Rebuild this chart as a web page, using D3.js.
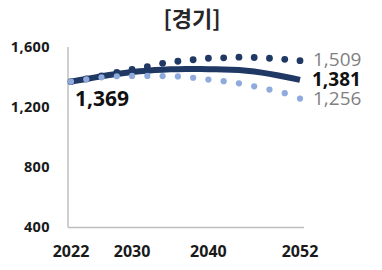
<!DOCTYPE html>
<html>
<head>
<meta charset="utf-8">
<script src="https://cdn.jsdelivr.net/npm/d3@7"></script>
<style>
  body { margin: 0; background: #fff; }
</style>
</head>
<body>
<div id="chart"></div>
<script>
// data
var years = d3.range(2022, 2053);
var baseValues = [1369, 1378, 1387, 1396, 1405, 1413, 1420, 1427, 1433, 1438,
                  1442, 1446, 1449, 1451, 1452, 1453, 1453, 1453, 1452, 1451,
                  1450, 1448, 1446, 1442, 1436, 1429, 1421, 1412, 1402, 1392, 1381];
var dotYears = d3.range(2022, 2053, 2);
var highValues = [1369, 1387, 1407, 1430, 1450, 1469, 1491, 1505, 1515, 1525, 1528, 1532, 1530, 1525, 1518, 1509];
var lowValues = [1369, 1385, 1398, 1405, 1407, 1407, 1406, 1404, 1395, 1383, 1372, 1358, 1338, 1316, 1292, 1256];
var yTicks = [400, 800, 1200, 1600];
var xTicks = [2022, 2030, 2040, 2052];
var title = "[경기]";

var W = 382, H = 270;
var navy = "#203864", light = "#8FAADC", gray = "#7f7f7f";

var svg = d3.select("#chart").append("svg")
    .attr("width", W).attr("height", H);

var x = d3.scaleLinear().domain([2022, 2052]).range([71, 300]);
var y = d3.scaleLinear().domain([400, 1600]).range([227, 47]);

// title
svg.append("text")
    .attr("x", 192).attr("y", 27)
    .attr("text-anchor", "middle")
    .style("font-family", '"Noto Sans CJK KR", sans-serif')
    .style("font-size", "22px")
    .style("font-weight", "700")
    .style("fill", "#262626")
    .text(title);

// axes lines
svg.append("line")
    .attr("x1", 68).attr("x2", 68)
    .attr("y1", 47).attr("y2", 227.5)
    .style("stroke", "#bfbfbf").style("stroke-width", 1.5);
svg.append("line")
    .attr("x1", 68).attr("x2", 304)
    .attr("y1", 227.5).attr("y2", 227.5)
    .style("stroke", "#bfbfbf").style("stroke-width", 1.5);

// y tick labels
svg.selectAll(".ylab").data(yTicks).enter().append("text")
    .attr("class", "ylab")
    .attr("x", 50)
    .attr("y", function(d) { return y(d) + 5; })
    .attr("text-anchor", "end")
    .style("font-family", '"Open Sans", sans-serif')
    .style("font-size", "14.5px")
    .style("font-weight", "700")
    .style("letter-spacing", "0.4px")
    .style("fill", "#1a1a1a")
    .text(function(d) { return d3.format(",")(d); });

// x tick labels
svg.selectAll(".xlab").data(xTicks).enter().append("text")
    .attr("class", "xlab")
    .attr("x", function(d) { return x(d); })
    .attr("y", 257)
    .attr("text-anchor", "middle")
    .style("font-family", '"Open Sans", sans-serif')
    .style("font-size", "16px")
    .style("font-weight", "700")
    .style("fill", "#1a1a1a")
    .text(function(d) { return d; });

// main line
var line = d3.line()
    .x(function(d, i) { return x(years[i]); })
    .y(function(d) { return y(d); });

svg.append("path")
    .datum(baseValues)
    .attr("d", line)
    .style("fill", "none")
    .style("stroke", navy)
    .style("stroke-width", 6);

// dotted scenarios
svg.selectAll(".hi").data(highValues).enter().append("circle")
    .attr("class", "hi")
    .attr("cx", function(d, i) { return x(dotYears[i]); })
    .attr("cy", function(d) { return y(d); })
    .attr("r", 3.4)
    .style("fill", navy);

svg.selectAll(".lo").data(lowValues).enter().append("circle")
    .attr("class", "lo")
    .attr("cx", function(d, i) { return x(dotYears[i]); })
    .attr("cy", function(d) { return y(d); })
    .attr("r", 3.1)
    .style("fill", light);

// value labels
var fmt = d3.format(",");
svg.append("text")
    .attr("x", 75).attr("y", 106)
    .style("font-family", '"Open Sans", sans-serif')
    .style("font-size", "21px")
    .style("font-weight", "700")
    .style("fill", "#111")
    .text(fmt(baseValues[0]));

svg.append("text")
    .attr("x", 313).attr("y", 66)
    .style("font-family", '"Open Sans", sans-serif')
    .style("font-size", "19px")
    .style("fill", gray)
    .text(fmt(highValues[highValues.length - 1]));

svg.append("text")
    .attr("x", 312).attr("y", 86)
    .style("font-family", '"Open Sans", sans-serif')
    .style("font-size", "19px")
    .style("font-weight", "700")
    .style("fill", "#111")
    .text(fmt(baseValues[baseValues.length - 1]));

svg.append("text")
    .attr("x", 313).attr("y", 105)
    .style("font-family", '"Open Sans", sans-serif')
    .style("font-size", "19px")
    .style("fill", gray)
    .text(fmt(lowValues[lowValues.length - 1]));
</script>
</body>
</html>
